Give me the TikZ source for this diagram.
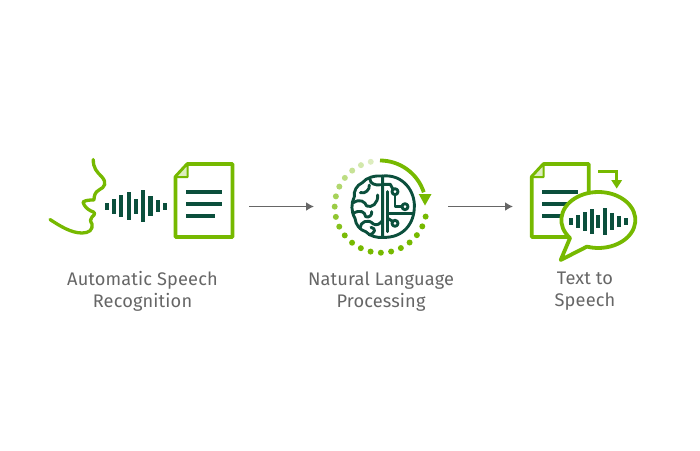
\documentclass[tikz,border=0pt]{standalone}
\usepackage{fontspec}
\setmainfont[LetterSpace=0.8]{Fira Sans}
\definecolor{leaf}{HTML}{76B900}
\definecolor{pine}{HTML}{0B4F3C}
\definecolor{label}{HTML}{666666}
\tikzset{
  caption/.style={text=label, align=center, font=\fontsize{18.2}{22}\selectfont, inner sep=0pt},
  flow/.style={draw=label, line width=1.9pt, -{Latex[length=8pt,width=9pt]}},
  pics/doc_icon/.style={
     code={
        \draw[leaf, line width=3.8pt, line join=round, fill=white] (12,0) -- (57,0) -- (57,73) -- (0,73) -- (0,13) -- cycle;
        \draw[leaf, fill=leaf!25, line width=2pt, line join=round] (12,0) -- (12,13) -- (0,13) -- cycle;
        \draw[pine, line width=3.8pt] (10.5,28) -- (46,28);
        \draw[pine, line width=3.8pt] (10.5,39.7) -- (46,39.7);
        \draw[pine, line width=3.8pt] (10.5,51.7) -- (39,51.7);
     }
  },
  pics/wave_icon/.style={
     code={
        \foreach \i/\h in {0/3.5, 1/7.5, 2/11, 3/14, 4/7.5, 5/16, 6/10, 7/6, 8/3.5}
           \fill[pine] (\i*7.3-2.1,-\h) rectangle (\i*7.3+2.1,\h);
     }
  }
}
\usetikzlibrary{arrows.meta}
\begin{document}
\begin{tikzpicture}[x=1pt,y=-1pt,line width=1pt]
  \useasboundingbox (0,0) rectangle (700,450);

  \draw[leaf, line width=3.3pt, line cap=round, line join=round]
     (93.3,159.5) .. controls (93,168) and (97,172) .. (102,177)
     .. controls (107,183) and (105,187) .. (99,190)
     .. controls (95,192) and (94,196) .. (94,200)
     .. controls (90,200) and (86,200) .. (83,202)
     .. controls (84,206) and (87,209) .. (91,211)
     .. controls (95,212) and (96,214) .. (92,217)
     .. controls (90,219) and (90,221) .. (92,224)
     .. controls (93,230) and (89,233) .. (82,233)
     .. controls (71,233) and (60,226) .. (50,219.5);
  \draw (106.7,206) pic{wave_icon};
  \draw (175.5,164) pic{doc_icon};

  \coordinate (asr_out) at (249,206.5);
  \coordinate (nlp_in) at (314,206.5);
  \coordinate (nlp_out) at (448,206.5);
  \coordinate (tts_in) at (513,206.5);
  \draw[flow] (asr_out) -- (nlp_in);
  \draw[flow] (nlp_out) -- (tts_in);

  \foreach \i in {0,...,19}{
     \pgfmathsetmacro{\mixval}{min(100,25+\i*8)}
     \fill[leaf!\mixval!white] ({380.7+46*cos(102.5+\i*12.9)},{206.7-46*sin(102.5+\i*12.9)}) circle (3);
  }
  \draw[leaf, line width=3.8pt] (380,160.5) arc[start angle=-90, end angle=-18, radius=46];
  \fill[leaf] (418.7,194) -- (431.5,194) -- (425,205.5) -- cycle;

  \begin{scope}[shift={(325,150)}, x=.3333pt, y=-.3333pt, pine, line width=2.9pt, line cap=round, line join=round]
    \draw (173,78) .. controls (150,76) and (125,82) .. (112,98)
       .. controls (95,105) and (85,125) .. (88,140)
       .. controls (78,160) and (78,185) .. (90,205)
       .. controls (92,225) and (105,240) .. (122,245)
       .. controls (135,258) and (155,264) .. (173,262) -- cycle;
    \draw (173,78) .. controls (235,72) and (270,125) .. (268,170)
       .. controls (268,220) and (235,265) .. (173,262);
    \draw (135,88) .. controls (135,100) and (150,108) .. (170,104);
    \draw (106,128) .. controls (120,132) and (135,120) .. (133,105);
    \draw (85,158) .. controls (105,145) and (120,155) .. (125,168) .. controls (140,175) and (160,160) .. (158,135);
    \draw (85,190) .. controls (105,178) and (120,185) .. (122,200) .. controls (132,205) and (142,195) .. (140,185);
    \draw (105,235) .. controls (105,215) and (130,205) .. (145,222) .. controls (155,228) and (165,222) .. (172,212);
    \draw (133,255) .. controls (150,250) and (155,235) .. (138,232);
    \draw (173,103) -- (196,103) -- (204,118);
    \draw (210,125) circle (9);
    \draw (240,170) circle (9);
    \draw (210,220) circle (9);
    \draw (210,134) -- (210,170) -- (231,170);
    \draw (188,125) -- (188,245);
    \draw (188,190) -- (265,190);
    \draw (188,205) -- (203,214);
  \end{scope}

  \draw (531.7,164) pic{doc_icon};
  \draw[leaf, line width=3.8pt, line join=round, fill=white]
     (570,238) arc[start angle=140, end angle=468, x radius=37, y radius=28]
     -- (560.7,260) -- cycle;
  \draw (570.7,221.5) pic[xscale=.95, yscale=.87]{wave_icon};
  \draw[leaf, line width=3pt] (598,171) -- (616.7,171) -- (616.7,180);
  \fill[leaf] (611.2,180) -- (622.2,180) -- (616.7,188.5) -- cycle;

  \node[caption] (asr_text) at (142.5,291.5) {Automatic Speech\\Recognition};
  \node[caption] (nlp_text) at (381,291.5) {Natural Language\\Processing};
  \node[caption] (tts_text) at (585,291.5) {Text to\\Speech};
\end{tikzpicture}
\end{document}
